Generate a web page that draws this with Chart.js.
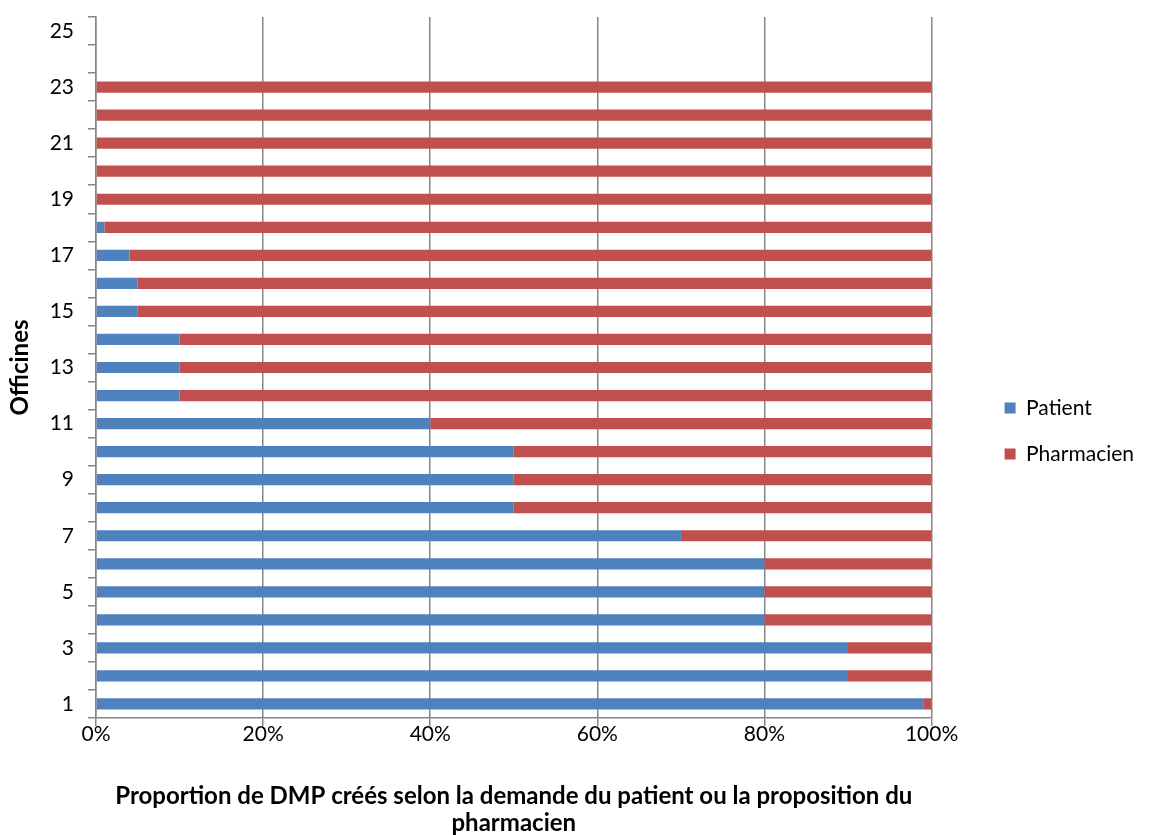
<!DOCTYPE html>
<html>
<head>
<meta charset="utf-8">
<script src="https://cdn.jsdelivr.net/npm/chart.js@4.4.0/dist/chart.umd.min.js"></script>
<style>
  html, body { margin: 0; padding: 0; background: #ffffff; }
  #wrap { width: 1156px; height: 835px; position: relative; }
</style>
</head>
<body>
<div id="wrap"><canvas id="c" width="1156" height="835"></canvas></div>
<script>
const categories = ['1','2','3','4','5','6','7','8','9','10','11','12','13','14','15','16','17','18','19','20','21','22','23','24','25'];
const patientValues = [99, 90, 90, 80, 80, 80, 70, 50, 50, 50, 40, 10, 10, 10, 5, 5, 4, 1, 0, 0, 0, 0, 0, null, null];
const pharmacienValues = [1, 10, 10, 20, 20, 20, 30, 50, 50, 50, 60, 90, 90, 90, 95, 95, 96, 99, 100, 100, 100, 100, 100, null, null];
const xTickValues = [0, 20, 40, 60, 80, 100];
const seriesNames = ['Patient', 'Pharmacien'];
const xTitle = ['Proportion de DMP créés selon la demande du patient ou la proposition du', 'pharmacien'];
const yTitle = 'Officines';

const FONT = 'Lato';
const gridGray = '#868686';

const legendShift = {
  id: 'legendShift',
  afterLayout(chart) {
    const l = chart.legend;
    if (!l) return;
    const dx = 48, dy = 5;
    l.left += dx; l.right += dx;
    l.top += dy; l.bottom += dy;
  }
};

new Chart(document.getElementById('c'), {
  type: 'bar',
  data: {
    labels: categories,
    datasets: [
      { label: seriesNames[0], data: patientValues, backgroundColor: '#4F81BD', borderWidth: 0, barPercentage: 0.4, categoryPercentage: 1.0 },
      { label: seriesNames[1], data: pharmacienValues, backgroundColor: '#C0504D', borderWidth: 0, barPercentage: 0.4, categoryPercentage: 1.0 }
    ]
  },
  options: {
    indexAxis: 'y',
    responsive: false,
    animation: false,
    layout: { padding: { top: 17, right: 60, bottom: 0, left: 0 } },
    plugins: {
      legend: {
        position: 'right',
        align: 'center',
        labels: {
          boxWidth: 11, boxHeight: 11, padding: 25,
          color: '#000000',
          font: { family: FONT, size: 21 }
        }
      },
      tooltip: { enabled: false }
    },
    scales: {
      x: {
        stacked: true,
        min: 0, max: 100,
        afterBuildTicks(scale) { scale.ticks = xTickValues.map(v => ({ value: v })); },
        ticks: {
          callback: v => v + '%',
          color: '#000000',
          font: { family: FONT, size: 21, lineHeight: 1.0 },
          padding: -2,
          maxRotation: 0
        },
        grid: { color: gridGray, lineWidth: 1.5, tickLength: 8, drawTicks: true },
        border: { color: gridGray, width: 1.5 },
        title: {
          display: true, text: xTitle, color: '#000000',
          font: { family: FONT, size: 24, weight: 'bold', lineHeight: 1.1 },
          padding: { top: 29, bottom: -1 }
        },
        afterFit(scale) { scale.height = 117; }
      },
      y: {
        stacked: true,
        reverse: true,
        ticks: {
          autoSkip: false,
          callback: function (v, i) { return (i % 2 === 0) ? categories[i] : ''; },
          color: '#000000',
          font: { family: FONT, size: 21 },
          padding: 14
        },
        grid: { drawOnChartArea: false, color: gridGray, lineWidth: 1.5, tickLength: 8, offset: true },
        border: { color: gridGray, width: 1.5 },
        title: {
          display: true, text: yTitle, color: '#000000',
          font: { family: FONT, size: 24, weight: 'bold' },
          padding: { top: 6, bottom: 0 }
        },
        afterFit(scale) { scale.width = 96; scale.paddingTop = 0; scale.paddingBottom = 0; }
      }
    }
  },
  plugins: [legendShift]
});
</script>
</body>
</html>
